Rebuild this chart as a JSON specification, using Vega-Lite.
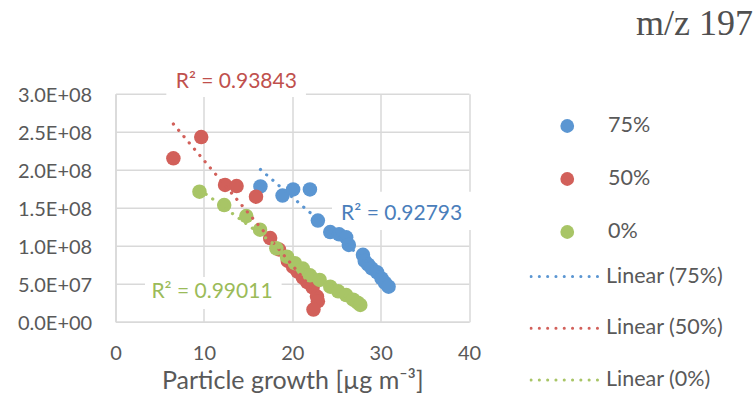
{
  "$schema": "https://vega.github.io/schema/vega-lite/v6.json",
  "width": 353.5,
  "height": 228,
  "autosize": {"type": "none"},
  "padding": {"left": 115.5, "top": 93.7, "right": 286, "bottom": 84.3},
  "background": "white",
  "config": {
    "view": {"stroke": null},
    "font": "Lato",
    "axis": {"labelFont": "Lato", "titleFont": "Lato"},
    "legend": {"labelFont": "Lato"}
  },
  "title": {
    "text": "m/z 197",
    "anchor": "end",
    "frame": "group",
    "font": "Liberation Serif",
    "fontSize": 36,
    "fontWeight": "normal",
    "color": "#505050",
    "baseline": "alphabetic",
    "offset": -5,
    "dx": 284
  },
  "datasets": {
    "points": [
      {"x": 16.4, "y": 178000000, "series": "75%", "trend": "Linear (75%)"},
      {"x": 18.9, "y": 166000000, "series": "75%", "trend": "Linear (75%)"},
      {"x": 20.1, "y": 174000000, "series": "75%", "trend": "Linear (75%)"},
      {"x": 22.0, "y": 174000000, "series": "75%", "trend": "Linear (75%)"},
      {"x": 22.9, "y": 133000000, "series": "75%", "trend": "Linear (75%)"},
      {"x": 24.3, "y": 118000000, "series": "75%", "trend": "Linear (75%)"},
      {"x": 25.3, "y": 115000000, "series": "75%", "trend": "Linear (75%)"},
      {"x": 26.1, "y": 111000000, "series": "75%", "trend": "Linear (75%)"},
      {"x": 26.4, "y": 101000000, "series": "75%", "trend": "Linear (75%)"},
      {"x": 28.0, "y": 88000000, "series": "75%", "trend": "Linear (75%)"},
      {"x": 28.2, "y": 80000000, "series": "75%", "trend": "Linear (75%)"},
      {"x": 28.6, "y": 75000000, "series": "75%", "trend": "Linear (75%)"},
      {"x": 29.0, "y": 70000000, "series": "75%", "trend": "Linear (75%)"},
      {"x": 29.6, "y": 65000000, "series": "75%", "trend": "Linear (75%)"},
      {"x": 30.1, "y": 57000000, "series": "75%", "trend": "Linear (75%)"},
      {"x": 30.5, "y": 51000000, "series": "75%", "trend": "Linear (75%)"},
      {"x": 30.9, "y": 46000000, "series": "75%", "trend": "Linear (75%)"},
      {"x": 6.55, "y": 215000000, "series": "50%", "trend": "Linear (50%)"},
      {"x": 9.7, "y": 243000000, "series": "50%", "trend": "Linear (50%)"},
      {"x": 12.4, "y": 180000000, "series": "50%", "trend": "Linear (50%)"},
      {"x": 13.7, "y": 178500000, "series": "50%", "trend": "Linear (50%)"},
      {"x": 15.9, "y": 164500000, "series": "50%", "trend": "Linear (50%)"},
      {"x": 17.5, "y": 110000000, "series": "50%", "trend": "Linear (50%)"},
      {"x": 18.5, "y": 95000000, "series": "50%", "trend": "Linear (50%)"},
      {"x": 19.5, "y": 80000000, "series": "50%", "trend": "Linear (50%)"},
      {"x": 20.1, "y": 72000000, "series": "50%", "trend": "Linear (50%)"},
      {"x": 20.6, "y": 66000000, "series": "50%", "trend": "Linear (50%)"},
      {"x": 21.2, "y": 58000000, "series": "50%", "trend": "Linear (50%)"},
      {"x": 21.7, "y": 52000000, "series": "50%", "trend": "Linear (50%)"},
      {"x": 22.3, "y": 45000000, "series": "50%", "trend": "Linear (50%)"},
      {"x": 22.8, "y": 33000000, "series": "50%", "trend": "Linear (50%)"},
      {"x": 22.9, "y": 27000000, "series": "50%", "trend": "Linear (50%)"},
      {"x": 22.4, "y": 16000000, "series": "50%", "trend": "Linear (50%)"},
      {"x": 9.5, "y": 171000000, "series": "0%", "trend": "Linear (0%)"},
      {"x": 12.3, "y": 153500000, "series": "0%", "trend": "Linear (0%)"},
      {"x": 14.8, "y": 139000000, "series": "0%", "trend": "Linear (0%)"},
      {"x": 16.35, "y": 121000000, "series": "0%", "trend": "Linear (0%)"},
      {"x": 18.2, "y": 96500000, "series": "0%", "trend": "Linear (0%)"},
      {"x": 19.4, "y": 85500000, "series": "0%", "trend": "Linear (0%)"},
      {"x": 20.3, "y": 77000000, "series": "0%", "trend": "Linear (0%)"},
      {"x": 21.2, "y": 70000000, "series": "0%", "trend": "Linear (0%)"},
      {"x": 22.0, "y": 61000000, "series": "0%", "trend": "Linear (0%)"},
      {"x": 23.1, "y": 55000000, "series": "0%", "trend": "Linear (0%)"},
      {"x": 24.3, "y": 46000000, "series": "0%", "trend": "Linear (0%)"},
      {"x": 25.2, "y": 40000000, "series": "0%", "trend": "Linear (0%)"},
      {"x": 26.1, "y": 35000000, "series": "0%", "trend": "Linear (0%)"},
      {"x": 26.9, "y": 29000000, "series": "0%", "trend": "Linear (0%)"},
      {"x": 27.4, "y": 25000000, "series": "0%", "trend": "Linear (0%)"},
      {"x": 27.7, "y": 22000000, "series": "0%", "trend": "Linear (0%)"}
    ],
    "labels": [
      {"label": "R² = 0.93843", "series": "50%", "x": 13.67, "y": 316000000, "bx1": 5.75, "bx2": 21.55, "by1": 295500000, "by2": 336000000},
      {"label": "R² = 0.92793", "series": "75%", "x": 32.38, "y": 142000000, "bx1": 24.5, "bx2": 40.34, "by1": 120700000, "by2": 171000000},
      {"label": "R² = 0.99011", "series": "0%", "x": 10.92, "y": 39500000, "bx1": 3.34, "bx2": 18.8, "by1": 16700000, "by2": 58800000}
    ]
  },
  "layer": [
    {
      "data": {"name": "labels"},
      "mark": {"type": "rect", "fill": "white"},
      "encoding": {
        "x": {
          "field": "bx1", "type": "quantitative",
          "scale": {"domain": [0, 40], "nice": false, "zero": false},
          "axis": {
            "values": [0, 10, 20, 30, 40], "tickCount": 10,
            "title": "Particle growth [µg m⁻³]",
            "grid": true, "gridColor": "#d9d9d9", "gridWidth": 1.5,
            "domainColor": "#d9d9d9", "domainWidth": 1.5,
            "ticks": false, "labelFlush": false,
            "labelFontSize": 20, "labelColor": "#595959", "labelPadding": 22,
            "titleFontSize": 25, "titleColor": "#595959", "titleFontWeight": "normal", "titlePadding": 5
          }
        },
        "x2": {"field": "bx2"},
        "y": {
          "field": "by1", "type": "quantitative",
          "scale": {"domain": [0, 300000000], "nice": false, "zero": false},
          "axis": {
            "values": [0, 50000000, 100000000, 150000000, 200000000, 250000000, 300000000],
            "tickCount": 10,
            "title": null,
            "labelExpr": "replace(format(datum.value, '.1e'), 'e+', 'E+0')",
            "grid": true, "gridColor": "#d9d9d9", "gridWidth": 1.5,
            "domainColor": "#d9d9d9", "domainWidth": 1.5,
            "ticks": false, "labelOverlap": false, "labelFlush": false, "labelOffset": 2,
            "labelFontSize": 20, "labelColor": "#595959", "labelPadding": 23.8
          }
        },
        "y2": {"field": "by2"}
      }
    },
    {
      "data": {"name": "points"},
      "mark": {"type": "circle", "size": 210, "opacity": 1},
      "encoding": {
        "x": {"field": "x", "type": "quantitative"},
        "y": {"field": "y", "type": "quantitative"},
        "color": {
          "field": "series", "type": "nominal",
          "scale": {"domain": ["75%", "50%", "0%"], "range": ["#5B96D2", "#D2605A", "#A8C566"]},
          "legend": {
            "orient": "none", "legendX": 441, "legendY": 22.3,
            "title": null, "padding": 0,
            "symbolType": "circle", "symbolSize": 190, "symbolStrokeWidth": 0, "symbolOpacity": 1,
            "labelFontSize": 21.5, "labelColor": "#595959", "labelOffset": 30,
            "clipHeight": 20, "rowPadding": 31
          }
        }
      }
    },
    {
      "data": {"name": "points"},
      "transform": [{"regression": "y", "on": "x", "groupby": ["series", "trend"]}],
      "mark": {"type": "line", "strokeWidth": 3.2, "strokeDash": [0.1, 8.1], "strokeCap": "round"},
      "encoding": {
        "x": {"field": "x", "type": "quantitative"},
        "y": {"field": "y", "type": "quantitative"},
        "stroke": {
          "field": "trend", "type": "nominal",
          "scale": {"domain": ["Linear (75%)", "Linear (50%)", "Linear (0%)"], "range": ["#5B96D2", "#D2605A", "#A8C566"]},
          "legend": {
            "orient": "none", "legendX": 414, "legendY": 172.8,
            "title": null, "padding": 0,
            "symbolType": "stroke", "symbolSize": 4489, "symbolStrokeWidth": 3, "symbolDash": [0.1, 8.2],
            "labelFontSize": 21.5, "labelColor": "#595959", "labelOffset": 6.5,
            "clipHeight": 20, "rowPadding": 29.8,
            "encode": {"symbols": {"update": {"strokeCap": {"value": "round"}}}}
          }
        }
      }
    },
    {
      "data": {"name": "labels"},
      "mark": {"type": "text", "fontSize": 21, "align": "center", "baseline": "middle"},
      "encoding": {
        "x": {"field": "x", "type": "quantitative"},
        "y": {"field": "y", "type": "quantitative"},
        "text": {"field": "label"},
        "fill": {
          "field": "series", "type": "nominal",
          "scale": {"domain": ["75%", "50%", "0%"], "range": ["#4A7EBB", "#C0504D", "#9BBB59"]},
          "legend": null
        }
      }
    }
  ]
}
